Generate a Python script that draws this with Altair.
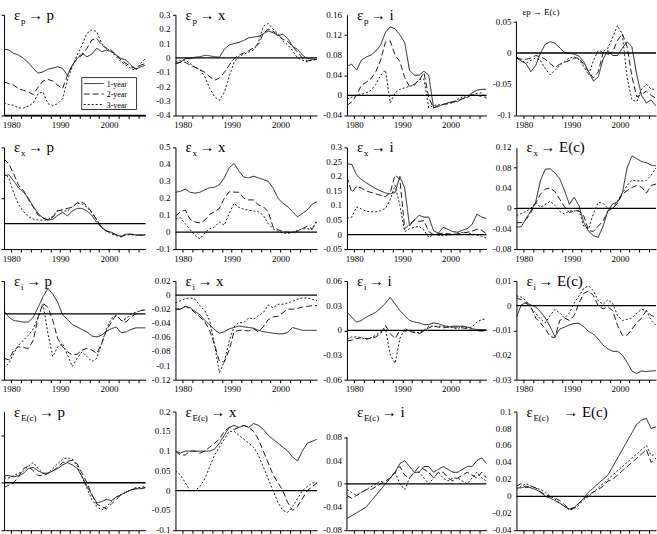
import altair as alt
import pandas as pd

# ---------------------------------------------------------------------------
# Impulse responses of p, x, i and E(c) to the four shocks, by horizon
# ---------------------------------------------------------------------------
YEARS = [1978.5 + k for k in range(30)]
HORIZONS = ["1-year", "2-year", "3-year"]
X_TICKS = list(range(1980, 2008, 2))

# shock eps_p
EP_P_1Y = [0.396, 0.39, 0.37, 0.36, 0.34, 0.315, 0.28, 0.252, 0.26, 0.276, 0.282, 0.29, 0.28, 0.24, 0.3,
           0.34, 0.37, 0.35, 0.366, 0.40, 0.38, 0.39, 0.38, 0.36, 0.34, 0.33, 0.30, 0.276, 0.29, 0.30]
EP_P_2Y = [0.20, 0.19, 0.18, 0.16, 0.15, 0.14, 0.125, 0.17, 0.205, 0.215, 0.205, 0.18, 0.16, 0.24, 0.30,
           0.34, 0.36, 0.40, 0.45, 0.46, 0.42, 0.40, 0.39, 0.36, 0.33, 0.31, 0.29, 0.28, 0.30, 0.31]
EP_P_3Y = [0.076, 0.065, 0.06, 0.045, 0.045, 0.055, 0.075, 0.13, 0.14, 0.07, 0.06, 0.07, 0.1, 0.21, 0.29,
           0.36, 0.42, 0.49, 0.51, 0.50, 0.43, 0.40, 0.38, 0.35, 0.32, 0.30, 0.28, 0.27, 0.31, 0.34]

EP_X_1Y = [-0.04, -0.03, -0.005, -0.005, 0.005, 0.008, 0.018, 0.015, 0.008, 0.005, 0.06, 0.09, 0.1, 0.108, 0.122,
           0.14, 0.145, 0.15, 0.168, 0.188, 0.175, 0.155, 0.165, 0.135, 0.08, 0.06, 0.02, -0.005, -0.008, -0.01]
EP_X_2Y = [-0.04, -0.03, -0.03, -0.05, -0.065, -0.08, -0.1, -0.13, -0.155, -0.14, -0.1, -0.05, -0.005, 0.02, 0.035,
           0.05, 0.07, 0.095, 0.17, 0.2, 0.185, 0.16, 0.13, 0.115, 0.08, 0.04, 0.0, -0.02, -0.015, -0.01]
EP_X_3Y = [-0.03, -0.02, -0.015, -0.04, -0.065, -0.08, -0.13, -0.21, -0.27, -0.295, -0.24, -0.13, -0.03, 0.012, 0.025,
           0.04, 0.055, 0.11, 0.22, 0.24, 0.2, 0.17, 0.12, 0.09, 0.05, 0.0, -0.015, -0.027, -0.015, -0.01]

EP_I_1Y = [0.058, 0.062, 0.05, 0.07, 0.076, 0.08, 0.088, 0.1, 0.125, 0.136, 0.132, 0.12, 0.105, 0.05, 0.04,
           0.04, 0.048, 0.04, -0.025, -0.022, -0.018, -0.015, -0.012, -0.012, -0.006, -0.004, 0.005, 0.01, 0.012, 0.012]
EP_I_2Y = [-0.02, -0.013, 0.0, 0.02, 0.026, 0.033, 0.047, 0.07, 0.106, 0.108, 0.08, 0.067, 0.035, 0.018, 0.022,
           0.03, 0.045, -0.005, -0.025, -0.02, -0.018, -0.017, -0.014, -0.011, -0.007, -0.004, 0.002, 0.0, -0.002, -0.004]
EP_I_3Y = [-0.007, -0.004, 0.0, 0.002, 0.005, 0.01, 0.022, 0.04, 0.05, -0.015, 0.005, 0.012, 0.015, 0.018, 0.02,
           0.032, 0.032, -0.025, -0.02, -0.019, -0.018, -0.016, -0.014, -0.008, -0.003, 0.0, 0.0, 0.004, 0.005, -0.007]

EP_E_1Y = [-0.008, -0.013, -0.017, -0.03, -0.02, 0.0, 0.014, 0.018, 0.016, 0.008, 0.001, 0.0, -0.002, -0.005, -0.014,
           -0.03, -0.045, -0.038, -0.01, 0.004, -0.004, -0.004, 0.008, 0.018, 0.01, -0.035, -0.068, -0.08, -0.075, -0.085]
EP_E_2Y = [-0.008, -0.01, -0.01, -0.008, -0.004, -0.006, -0.01, -0.017, -0.023, -0.018, -0.015, -0.012, -0.008, -0.008, -0.018,
           -0.03, -0.04, -0.03, 0.0, -0.002, 0.002, 0.02, 0.031, 0.01, -0.038, -0.07, -0.066, -0.061, -0.068, -0.072]
EP_E_3Y = [-0.006, -0.012, -0.016, -0.012, -0.008, -0.012, -0.025, -0.035, -0.028, -0.02, -0.013, -0.008, -0.006, -0.01, -0.022,
           -0.035, -0.012, 0.004, 0.002, 0.008, 0.025, 0.044, 0.03, -0.04, -0.075, -0.078, -0.058, -0.05, -0.058, -0.058]

# shock eps_x
EX_P_1Y = [0.375, 0.385, 0.335, 0.28, 0.25, 0.2, 0.135, 0.08, 0.045, 0.028, 0.035, 0.065, 0.09, 0.06, 0.1,
           0.12, 0.12, 0.1, 0.065, 0.01, -0.03, -0.055, -0.068, -0.088, -0.1, -0.082, -0.082, -0.088, -0.092, -0.088]
EX_P_2Y = [0.51, 0.47, 0.39, 0.3, 0.26, 0.19, 0.13, 0.068, 0.045, 0.03, 0.05, 0.1, 0.11, 0.12, 0.13,
           0.165, 0.17, 0.14, 0.09, 0.03, -0.03, -0.06, -0.07, -0.09, -0.105, -0.085, -0.085, -0.09, -0.09, -0.088]
EX_P_3Y = [0.4, 0.36, 0.24, 0.15, 0.095, 0.055, 0.035, 0.028, 0.028, 0.03, 0.06, 0.105, 0.1, 0.1, 0.135,
           0.16, 0.155, 0.13, 0.085, 0.03, -0.03, -0.06, -0.08, -0.095, -0.1, -0.09, -0.085, -0.092, -0.088, -0.086]

EX_X_1Y = [0.236, 0.24, 0.254, 0.235, 0.23, 0.235, 0.25, 0.262, 0.265, 0.28, 0.32, 0.38, 0.405, 0.36, 0.325,
           0.32, 0.33, 0.32, 0.31, 0.3, 0.26, 0.2, 0.17, 0.15, 0.12, 0.09, 0.11, 0.13, 0.165, 0.18]
EX_X_2Y = [0.094, 0.12, 0.13, 0.075, 0.06, 0.055, 0.07, 0.105, 0.12, 0.14, 0.2, 0.238, 0.236, 0.235, 0.2,
           0.19, 0.19, 0.16, 0.15, 0.12, 0.03, 0.015, 0.002, 0.0, -0.005, 0.005, 0.02, 0.035, 0.02, 0.06]
EX_X_3Y = [0.08, 0.085, 0.05, 0.015, -0.02, -0.04, -0.005, 0.02, 0.03, 0.06, 0.04, 0.11, 0.17, 0.146, 0.135,
           0.13, 0.125, 0.12, 0.1, 0.05, 0.02, 0.005, -0.005, -0.008, 0.0, 0.01, 0.02, 0.02, 0.015, 0.075]

EX_I_1Y = [0.243, 0.242, 0.205, 0.19, 0.178, 0.168, 0.158, 0.15, 0.143, 0.14, 0.145, 0.2, 0.16, 0.03, 0.05,
           0.066, 0.06, 0.06, 0.013, 0.005, 0.025, 0.018, 0.01, 0.008, 0.015, 0.02, 0.035, 0.07, 0.06, 0.055]
EX_I_2Y = [0.2, 0.145, 0.165, 0.16, 0.15, 0.145, 0.14, 0.135, 0.13, 0.145, 0.205, 0.19, 0.02, 0.035, 0.05,
           0.045, 0.048, 0.01, 0.0, 0.003, 0.005, 0.003, 0.0, 0.002, 0.005, 0.008, 0.012, 0.018, 0.015, 0.002]
EX_I_3Y = [0.055, 0.06, 0.095, 0.088, 0.08, 0.078, 0.078, 0.082, 0.09, 0.12, 0.17, 0.1, 0.01, 0.02, 0.025,
           0.028, 0.015, -0.01, 0.0, -0.003, -0.004, -0.002, 0.0, 0.005, 0.007, 0.007, 0.002, -0.002, -0.006, -0.012]

EX_E_1Y = [-0.037, -0.036, -0.02, -0.005, 0.012, 0.055, 0.077, 0.078, 0.07, 0.058, 0.035, 0.008, 0.022, 0.005, -0.028,
           -0.045, -0.054, -0.057, -0.035, -0.005, 0.009, 0.012, 0.03, 0.08, 0.103, 0.098, 0.092, 0.09, 0.085, 0.084]
EX_E_2Y = [-0.028, -0.028, -0.022, -0.008, 0.01, 0.028, 0.038, 0.04, 0.033, 0.018, 0.003, -0.008, -0.005, -0.005, -0.015,
           -0.044, -0.045, -0.035, -0.025, -0.005, 0.0, 0.01, 0.028, 0.035, 0.041, 0.045, 0.042, 0.03, 0.045, 0.048]
EX_E_3Y = [-0.014, -0.01, -0.006, 0.0, 0.012, 0.002, 0.008, 0.014, 0.006, -0.006, -0.011, -0.005, -0.005, -0.005, -0.035,
           -0.04, -0.01, 0.012, 0.01, 0.0, 0.0, 0.015, 0.03, 0.045, 0.056, 0.054, 0.054, 0.055, 0.065, 0.08]

# shock eps_i
EI_P_1Y = [0.002, -0.002, -0.004, -0.0045, -0.005, -0.005, -0.002, 0.004, 0.0105, 0.0155, 0.012, 0.007, -0.0005, -0.0035, -0.0065,
           -0.008, -0.0095, -0.011, -0.0135, -0.014, -0.013, -0.0105, -0.009, -0.008, -0.0115, -0.011, -0.0095, -0.0085, -0.0085, -0.0085]
EI_P_2Y = [-0.027, -0.028, -0.022, -0.02, -0.0205, -0.021, -0.016, -0.002, 0.0065, 0.004, -0.004, -0.015, -0.02, -0.023, -0.025,
           -0.0245, -0.022, -0.021, -0.022, -0.024, -0.018, -0.01, -0.005, -0.0005, -0.004, -0.005, -0.002, 0.0, 0.002, 0.0025]
EI_P_3Y = [-0.033, -0.03, -0.024, -0.019, -0.016, -0.013, -0.009, -0.002, 0.006, -0.012, -0.026, -0.02, -0.018, -0.025, -0.032,
           -0.027, -0.023, -0.026, -0.029, -0.027, -0.018, -0.009, -0.003, -0.001, -0.004, -0.003, 0.0, 0.001, 0.002, 0.0025]

EI_X_1Y = [-0.02, -0.02, -0.016, -0.018, -0.023, -0.028, -0.036, -0.042, -0.049, -0.054, -0.052, -0.048, -0.046, -0.044, -0.045,
           -0.046, -0.047, -0.05, -0.052, -0.053, -0.054, -0.055, -0.055, -0.053, -0.046, -0.048, -0.05, -0.05, -0.05, -0.05]
EI_X_2Y = [-0.02, -0.02, -0.016, -0.019, -0.025, -0.031, -0.038, -0.05, -0.07, -0.094, -0.095, -0.078, -0.052, -0.05, -0.05,
           -0.051, -0.048, -0.052, -0.045, -0.035, -0.031, -0.03, -0.025, -0.02, -0.02, -0.019, -0.017, -0.016, -0.015, -0.015]
EI_X_3Y = [-0.011, -0.008, -0.005, -0.004, -0.006, -0.015, -0.022, -0.036, -0.07, -0.11, -0.095, -0.065, -0.045, -0.039, -0.039,
           -0.032, -0.034, -0.029, -0.025, -0.014, -0.018, -0.013, -0.013, -0.011, -0.009, -0.006, -0.004, -0.004, -0.006, -0.008]

EI_I_1Y = [0.022, 0.016, 0.01, 0.012, 0.016, 0.019, 0.022, 0.027, 0.033, 0.04, 0.032, 0.024, 0.018, 0.012, 0.01,
           0.009, 0.007, 0.007, 0.009, 0.008, 0.006, 0.004, 0.005, 0.005, 0.005, 0.004, 0.002, 0.001, 0.001, 0.001]
EI_I_2Y = [-0.013, -0.012, -0.01, -0.009, -0.01, -0.01, -0.008, -0.004, 0.006, -0.004, -0.01, 0.0, -0.001, -0.001, -0.003,
           -0.004, -0.001, 0.003, 0.005, 0.004, 0.003, 0.004, 0.004, 0.004, 0.003, 0.002, 0.0, -0.0005, -0.001, 0.0]
EI_I_3Y = [-0.011, -0.008, -0.008, -0.009, -0.011, -0.009, -0.006, -0.002, 0.002, -0.03, -0.04, -0.01, 0.002, 0.0, -0.002,
           -0.003, 0.0, 0.005, 0.005, 0.005, 0.005, 0.005, 0.003, 0.002, 0.005, 0.003, 0.004, 0.01, 0.013, 0.014]

EI_E_1Y = [-0.0047, 0.0003, 0.0012, 0.0003, -0.0005, -0.0025, -0.005, -0.0085, -0.0125, -0.0095, -0.0087, -0.0078, -0.0072, -0.0072, -0.0085,
           -0.0105, -0.0115, -0.0135, -0.016, -0.0175, -0.0185, -0.0185, -0.02, -0.023, -0.0265, -0.0275, -0.0265, -0.0267, -0.0265, -0.0263]
EI_E_2Y = [0.003, 0.0025, 0.001, -0.0005, -0.005, -0.007, -0.0095, -0.0125, -0.013, -0.006, -0.005, -0.006, -0.004, 0.001, 0.005,
           0.006, 0.004, 0.0, -0.0013, -0.0005, -0.002, -0.008, -0.012, -0.012, -0.0095, -0.007, -0.005, -0.002, -0.004, -0.0047]
EI_E_3Y = [0.004, 0.0035, 0.002, -0.001, -0.003, -0.0055, -0.007, -0.004, -0.0015, -0.003, -0.005, -0.003, 0.001, 0.004, 0.007,
           0.008, 0.006, 0.002, 0.0005, 0.0024, 0.001, -0.004, -0.006, -0.0055, -0.005, -0.003, -0.0015, -0.002, -0.006, -0.008]

# shock eps_E(c)
EE_P_1Y = [0.006, 0.006, 0.005, 0.006, 0.008, 0.012, 0.013, 0.01, 0.008, 0.008, 0.01, 0.012, 0.015, 0.017, 0.015,
           0.012, 0.005, -0.003, -0.01, -0.017, -0.016, -0.014, -0.015, -0.012, -0.01, -0.008, -0.006, -0.005, -0.005, -0.004]
EE_P_2Y = [-0.004, -0.002, 0.0, 0.005, 0.012, 0.014, 0.01, 0.006, 0.006, 0.008, 0.01, 0.013, 0.017, 0.018, 0.019,
           0.016, 0.008, 0.0, -0.01, -0.018, -0.02, -0.022, -0.018, -0.014, -0.01, -0.008, -0.006, -0.005, -0.005, -0.004]
EE_P_3Y = [0.004, 0.004, 0.006, 0.008, 0.01, 0.014, 0.017, 0.012, 0.008, 0.008, 0.012, 0.016, 0.02, 0.021, 0.02,
           0.014, 0.005, -0.005, -0.014, -0.02, -0.023, -0.02, -0.016, -0.012, -0.01, -0.008, -0.006, -0.004, -0.004, -0.003]

EE_X_1Y = [0.1, 0.095, 0.1, 0.1, 0.1, 0.1, 0.1, 0.1, 0.105, 0.12, 0.14, 0.16, 0.165, 0.16, 0.165,
           0.16, 0.17, 0.165, 0.155, 0.14, 0.13, 0.12, 0.11, 0.1, 0.085, 0.075, 0.1, 0.12, 0.125, 0.13]
EE_X_2Y = [0.1, 0.09, 0.09, 0.1, 0.1, 0.095, 0.1, 0.11, 0.12, 0.13, 0.15, 0.16, 0.155, 0.16, 0.165,
           0.16, 0.15, 0.13, 0.1, 0.07, 0.04, 0.02, 0.0, -0.03, -0.05, -0.04, -0.02, 0.0, 0.01, 0.02]
EE_X_3Y = [0.05, 0.04, 0.02, 0.0, 0.0, 0.01, 0.03, 0.06, 0.09, 0.11, 0.13, 0.15, 0.15, 0.14, 0.13,
           0.12, 0.11, 0.09, 0.06, 0.03, 0.0, -0.03, -0.05, -0.055, -0.04, -0.02, 0.0, 0.01, 0.02, 0.02]

EE_I_1Y = [-0.06, -0.055, -0.05, -0.045, -0.04, -0.03, -0.02, -0.01, 0.0, 0.01, 0.02, 0.035, 0.04, 0.03, 0.02,
           0.02, 0.03, 0.03, 0.02, 0.025, 0.03, 0.025, 0.02, 0.02, 0.025, 0.03, 0.03, 0.04, 0.045, 0.035]
EE_I_2Y = [-0.02, -0.025, -0.02, -0.015, -0.01, -0.01, -0.005, 0.0, 0.005, 0.01, 0.02, 0.03, 0.015, 0.01, 0.02,
           0.03, 0.025, 0.02, 0.01, 0.02, 0.02, 0.01, 0.005, 0.01, 0.015, 0.02, 0.015, 0.01, 0.02, 0.01]
EE_I_3Y = [-0.01, -0.015, -0.02, -0.015, -0.01, -0.005, 0.0, 0.005, 0.0, 0.01, 0.02, 0.0, -0.01, 0.01, 0.02,
           0.02, 0.01, 0.0, 0.01, 0.02, 0.01, 0.005, 0.01, 0.01, 0.005, 0.0, 0.01, 0.02, 0.01, 0.005]

EE_E_1Y = [0.01, 0.01, 0.012, 0.01, 0.008, 0.005, 0.0, -0.002, -0.005, -0.008, -0.012, -0.015, -0.013, -0.008, -0.002,
           0.005, 0.01, 0.015, 0.02, 0.025, 0.035, 0.045, 0.055, 0.065, 0.075, 0.085, 0.09, 0.092, 0.08, 0.082]
EE_E_2Y = [0.012, 0.015, 0.01, 0.012, 0.01, 0.005, 0.002, 0.0, -0.002, -0.005, -0.01, -0.015, -0.014, -0.008, -0.003,
           0.002, 0.005, 0.008, 0.012, 0.018, 0.02, 0.025, 0.03, 0.035, 0.04, 0.045, 0.05, 0.055, 0.04, 0.045]
EE_E_3Y = [0.008, 0.012, 0.015, 0.012, 0.01, 0.008, 0.005, 0.0, -0.003, -0.008, -0.012, -0.016, -0.015, -0.01, -0.004,
           0.0, 0.005, 0.01, 0.015, 0.02, 0.025, 0.03, 0.035, 0.04, 0.045, 0.05, 0.055, 0.06, 0.048, 0.05]

# ---------------------------------------------------------------------------
FONT = "Liberation Serif"
INK = "#1e1e1e"
ONE = pd.DataFrame({"k": [0]})
DASHES = [[1, 0], [6, 3], [2, 2]]
DASH = alt.Scale(domain=HORIZONS, range=DASHES)


def y_ticks(lo, hi, step):
    n = int(round((hi - lo) / step))
    return [round(lo + k * step, 6) for k in range(n + 1)]


def label(text, x, y, size):
    return alt.Chart(ONE).mark_text(
        text=text, font=FONT, fontSize=size, color="black", align="left", baseline="alphabetic"
    ).encode(x=alt.value(x), y=alt.value(y))


def heading(sub, target, sub_w, gap=2):
    return [label("ε", 10, 5, 15), label(sub, 17, 9, 9), label("→ " + target, 17 + sub_w + gap, 5, 15)]


def key_box():
    # boxed key for the three horizons
    parts = [alt.Chart(ONE).mark_rect(fill="white", stroke="black", strokeWidth=0.8).encode(
        x=alt.value(78), x2=alt.value(133), y=alt.value(63), y2=alt.value(95))]
    for k, (name, dash) in enumerate(zip(HORIZONS, DASHES)):
        yy = 69 + 10.5 * k
        parts.append(alt.Chart(ONE).mark_rule(color=INK, strokeWidth=1, strokeDash=dash).encode(
            x=alt.value(80), x2=alt.value(100), y=alt.value(yy)))
        parts.append(label(name, 103, yy + 3, 8))
    return parts


def panel(series, lo, hi, step, width, height, sub=None, target=None, sub_w=5, gap=2,
          show_y=True, axis_top=None, small_title=None, with_key=False):
    rows = []
    for h, s in zip(HORIZONS, series):
        rows += [{"year": yr, "value": v, "horizon": h} for yr, v in zip(YEARS, s)]
    df = pd.DataFrame(rows)
    top = hi if axis_top is None else axis_top
    ticks = y_ticks(lo, hi, step)

    x_enc = alt.X(
        "year:Q",
        scale=alt.Scale(domain=[1978.5, 2007.5], nice=False, zero=False),
        axis=alt.Axis(values=X_TICKS, title=None, grid=False, labelOverlap=False,
                      labelExpr="datum.value % 10 == 0 ? '' + datum.value : ''"),
    )
    y_scale = alt.Scale(domain=[lo, top], nice=False, zero=False)
    y_axis = alt.Axis(values=ticks, title=None, grid=False, labels=False, domain=axis_top is None)

    lines = alt.Chart(df).mark_line(color=INK, strokeWidth=1, clip=True).encode(
        x=x_enc, y=alt.Y("value:Q", scale=y_scale, axis=y_axis),
        strokeDash=alt.StrokeDash("horizon:N", scale=DASH, legend=None),
    )
    zero = alt.Chart(ONE).mark_rule(color="black", strokeWidth=1.3).encode(y=alt.datum(0))
    layers = [lines, zero]
    if show_y:
        tick_df = pd.DataFrame({"value": ticks, "text": [f"{v:g}" for v in ticks]})
        layers.append(alt.Chart(tick_df).mark_text(
            font=FONT, fontSize=9, color="black", align="right", baseline="middle"
        ).encode(x=alt.value(-5), y=alt.Y("value:Q", scale=y_scale, axis=y_axis), text="text:N"))
    if axis_top is not None:
        layers.append(alt.Chart(ONE).mark_rule(color="black", strokeWidth=1).encode(
            x=alt.value(0), y=alt.datum(hi), y2=alt.datum(lo)))
    if small_title is not None:
        layers.append(label(small_title, 6, 0, 9))
    else:
        layers += heading(sub, target, sub_w, gap)
    if with_key:
        layers += key_box()
    return alt.layer(*layers).properties(width=width, height=height)


WIDTHS = [142, 142, 140, 140]
H1, H2, H3, H4 = 101, 102, 99, 119

panels = [
    panel([EP_P_1Y, EP_P_2Y, EP_P_3Y], 0.0, 0.6, 0.1, WIDTHS[0], H1, "p", "p", 5, show_y=False, with_key=True),
    panel([EP_X_1Y, EP_X_2Y, EP_X_3Y], -0.4, 0.3, 0.1, WIDTHS[1], H1, "p", "x", 5),
    panel([EP_I_1Y, EP_I_2Y, EP_I_3Y], -0.04, 0.16, 0.04, WIDTHS[2], H1, "p", "i", 5),
    panel([EP_E_1Y, EP_E_2Y, EP_E_3Y], -0.1, 0.05, 0.05, WIDTHS[3], H1, axis_top=0.0612,
          small_title="εp → E(c)"),

    panel([EX_P_1Y, EX_P_2Y, EX_P_3Y], -0.2, 0.6, 0.1, WIDTHS[0], H2, "x", "p", 5, show_y=False),
    panel([EX_X_1Y, EX_X_2Y, EX_X_3Y], -0.1, 0.5, 0.1, WIDTHS[1], H2, "x", "x", 5),
    panel([EX_I_1Y, EX_I_2Y, EX_I_3Y], -0.05, 0.3, 0.05, WIDTHS[2], H2, "x", "i", 5),
    panel([EX_E_1Y, EX_E_2Y, EX_E_3Y], -0.08, 0.12, 0.04, WIDTHS[3], H2, "x", "E(c)", 5),

    panel([EI_P_1Y, EI_P_2Y, EI_P_3Y], -0.04, 0.02, 0.01, WIDTHS[0], H3, "i", "p", 3, show_y=False),
    panel([EI_X_1Y, EI_X_2Y, EI_X_3Y], -0.12, 0.02, 0.02, WIDTHS[1], H3, "i", "x", 3),
    panel([EI_I_1Y, EI_I_2Y, EI_I_3Y], -0.06, 0.06, 0.03, WIDTHS[2], H3, "i", "i", 3),
    panel([EI_E_1Y, EI_E_2Y, EI_E_3Y], -0.03, 0.01, 0.01, WIDTHS[3], H3, "i", "E(c)", 3),

    panel([EE_P_1Y, EE_P_2Y, EE_P_3Y], -0.04, 0.06, 0.02, WIDTHS[0], H4, "E(c)", "p", 16, show_y=False),
    panel([EE_X_1Y, EE_X_2Y, EE_X_3Y], -0.1, 0.2, 0.05, WIDTHS[1], H4, "E(c)", "x", 16),
    panel([EE_I_1Y, EE_I_2Y, EE_I_3Y], -0.08, 0.08, 0.04, WIDTHS[2], H4, "E(c)", "i", 16, axis_top=0.1247),
    panel([EE_E_1Y, EE_E_2Y, EE_E_3Y], -0.04, 0.1, 0.02, WIDTHS[3], H4, "E(c)", "E(c)", 16, gap=14),
]

chart = alt.concat(
    *panels, columns=4, spacing={"row": 32, "column": 30}, bounds="flush"
).configure_axis(
    labelFont=FONT, labelFontSize=9, labelColor="black", tickColor="black", domainColor="black",
    tickSize=3, labelPadding=2, domainWidth=1, tickWidth=1, grid=False,
).configure_view(stroke=None).properties(
    padding={"left": 0, "top": 7, "right": 0, "bottom": 0}, background="white"
)

chart.save("out.html", embed_options={"renderer": "svg", "actions": False})
